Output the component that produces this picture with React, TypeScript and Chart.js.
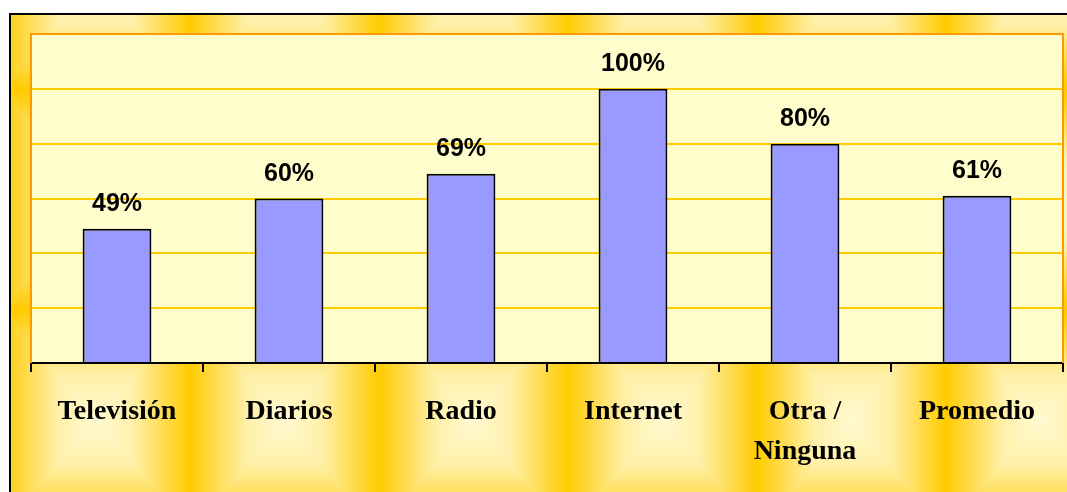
import React, { useEffect, useRef } from "react";
import { Chart, registerables } from "chart.js";

Chart.register(...registerables);

const categories: (string | string[])[] = [
  "Televisión",
  "Diarios",
  "Radio",
  "Internet",
  ["Otra /", "Ninguna"],
  "Promedio",
];
const values: number[] = [49, 60, 69, 100, 80, 61];
const yTicks: number[] = [0, 20, 40, 60, 80, 100, 120];

const STOPS: [number, string][] = [
  [0, "#FFCC00"],
  [0.12, "#FFD945"],
  [0.3, "#FFF0A8"],
  [0.5, "#FFFAD2"],
  [0.7, "#FFF0A8"],
  [0.88, "#FFD945"],
  [1, "#FFCC00"],
];

function addStops(g: CanvasGradient) {
  STOPS.forEach(([o, c]) => g.addColorStop(o, c));
}

const bgPlugin = {
  id: "bgPlugin",
  beforeDraw(chart: any) {
    const { ctx, width, height, chartArea } = chart;
    ctx.save();
    ctx.fillStyle = "#ffffff";
    ctx.fillRect(0, 0, width, height);
    const fx = 10;
    const fy = 14;
    ctx.beginPath();
    ctx.rect(fx, fy, width - fx, height - fy);
    ctx.clip();
    const tw = 189;
    const x0 = 1;
    for (let x = x0 - tw; x < width; x += tw) {
      const g = ctx.createLinearGradient(x, 0, x + tw, 0);
      addStops(g);
      ctx.fillStyle = g;
      ctx.fillRect(x, 0, tw, height);
    }
    ctx.globalCompositeOperation = "darken";
    const th = 220;
    const y0 = 530;
    for (let y = y0; y > -th; y -= th) {
      const g = ctx.createLinearGradient(0, y - th, 0, y);
      addStops(g);
      ctx.fillStyle = g;
      ctx.fillRect(0, y - th, width, th);
    }
    ctx.restore();

    ctx.save();
    ctx.strokeStyle = "#000000";
    ctx.lineWidth = 2;
    ctx.beginPath();
    ctx.moveTo(fx, height + 5);
    ctx.lineTo(fx, fy);
    ctx.lineTo(width + 5, fy);
    ctx.stroke();

    ctx.fillStyle = "#FFFDCC";
    ctx.fillRect(
      chartArea.left,
      chartArea.top,
      chartArea.right - chartArea.left,
      chartArea.bottom - chartArea.top
    );
    ctx.restore();
  },
  beforeDatasetsDraw(chart: any) {
    const { ctx, chartArea } = chart;
    ctx.save();
    ctx.strokeStyle = "#FF9900";
    ctx.lineWidth = 2;
    ctx.beginPath();
    ctx.moveTo(chartArea.left, chartArea.bottom);
    ctx.lineTo(chartArea.left, chartArea.top);
    ctx.lineTo(chartArea.right, chartArea.top);
    ctx.lineTo(chartArea.right, chartArea.bottom);
    ctx.stroke();
    ctx.restore();
  },
  afterDatasetsDraw(chart: any) {
    const { ctx } = chart;
    const meta = chart.getDatasetMeta(0);
    ctx.save();
    ctx.fillStyle = "#000000";
    ctx.font = "bold 25px 'Liberation Sans', Arial, sans-serif";
    ctx.textAlign = "center";
    ctx.textBaseline = "alphabetic";
    meta.data.forEach((bar: any, i: number) => {
      ctx.fillText(values[i] + "%", bar.x, bar.y - 18);
    });
    ctx.restore();
  },
};

export default function App() {
  const ref = useRef<HTMLCanvasElement | null>(null);

  useEffect(() => {
    if (!ref.current) return;
    const chart = new Chart(ref.current, {
      type: "bar",
      data: {
        labels: categories,
        datasets: [
          {
            data: values,
            backgroundColor: "#9999FF",
            borderColor: "#000000",
            borderWidth: 2,
            barPercentage: 0.4,
            categoryPercentage: 1,
          },
        ],
      },
      options: {
        animation: false,
        responsive: false,
        maintainAspectRatio: false,
        layout: { padding: { left: 31, right: 4, top: 34, bottom: 0 } },
        plugins: {
          legend: { display: false },
          tooltip: { enabled: false },
          title: { display: false },
        },
        scales: {
          x: {
            grid: {
              display: true,
              drawOnChartArea: false,
              drawTicks: true,
              tickLength: 9,
              tickColor: "#000000",
              lineWidth: 2,
              offset: true,
            },
            border: { display: true, color: "#000000", width: 2 },
            ticks: {
              color: "#000000",
              padding: 20,
              maxRotation: 0,
              autoSkip: false,
              font: {
                family: "'Liberation Serif', 'Times New Roman', serif",
                size: 28,
                weight: "bold",
                lineHeight: 40 / 28,
              },
            },
          },
          y: {
            min: 0,
            max: 120,
            afterBuildTicks: (axis: any) => {
              axis.ticks = yTicks.map((v) => ({ value: v }));
            },
            grid: {
              color: "#FFCC00",
              lineWidth: 2,
              drawTicks: false,
            },
            border: { display: false },
            ticks: { display: false },
          },
        },
      },
      plugins: [bgPlugin],
    });
    return () => chart.destroy();
  }, []);

  return (
    <div style={{ position: "fixed", left: 0, top: 0, width: 1067, height: 492 }}>
      <canvas ref={ref} width={1067} height={492} style={{ display: "block" }} />
    </div>
  );
}
